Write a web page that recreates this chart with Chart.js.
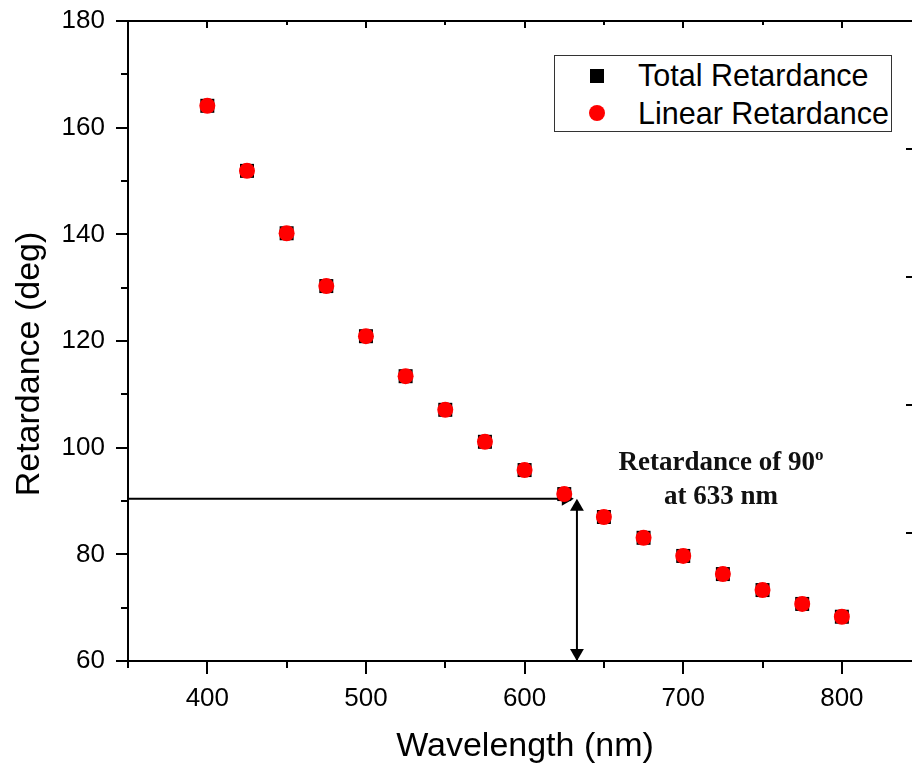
<!DOCTYPE html>
<html>
<head>
<meta charset="utf-8">
<script src="https://cdn.jsdelivr.net/npm/chart.js@4.4.1/dist/chart.umd.min.js"></script>
<style>
  body { margin: 0; overflow: hidden; background: #fff; width: 912px; height: 766px; position: relative; }
  #c { position: absolute; left: 0; top: 0; }
  .txt { position: absolute; font-family: "Liberation Sans", Arial, sans-serif; color: #000; white-space: nowrap; }
  #xtitle { left: 325px; top: 724px; width: 400px; text-align: center; font-size: 34px; line-height: 40px; }
  #ytitle { left: -173px; top: 344px; width: 400px; height: 40px; text-align: center; font-size: 34px; line-height: 40px; transform: rotate(-90deg); }
  #legend { position: absolute; left: 554px; top: 55px; width: 336px; height: 75px; border: 1.5px solid #333; background: #fff; }
  #note { position: absolute; left: 571px; top: 444px; width: 300px; text-align: center; font-family: "Liberation Serif", "Times New Roman", serif; font-weight: bold; font-size: 27px; line-height: 34px; color: #111; }
  #note sup { font-size: 17px; vertical-align: 10px; line-height: 0; }
</style>
</head>
<body>
<canvas id="c" width="940" height="766"></canvas>
<div class="txt" id="xtitle">Wavelength (nm)</div>
<div class="txt" id="ytitle">Retardance (deg)</div>
<div id="legend">
  <div style="position:absolute;left:35px;top:13px;width:14px;height:14px;background:#000"></div>
  <div class="txt" style="left:83px;top:0px;font-size:30.5px;line-height:38px">Total Retardance</div>
  <div style="position:absolute;left:34px;top:49px;width:16px;height:16px;border-radius:50%;background:#f00"></div>
  <div class="txt" style="left:83px;top:38px;font-size:30.5px;line-height:38px">Linear Retardance</div>
</div>
<div id="note">Retardance of 90<sup>o</sup><br>at 633 nm</div>
<script>
// Daten
const wavelength = [400, 425, 450, 475, 500, 525, 550, 575, 600, 625, 650, 675, 700, 725, 750, 775, 800];
const totalRetardance = [164.1, 151.9, 140.2, 130.3, 120.9, 113.4, 107.1, 101.1, 95.8, 91.3, 87.0, 83.1, 79.7, 76.3, 73.3, 70.7, 68.3];
const linearRetardance = [164.1, 151.9, 140.2, 130.3, 120.9, 113.4, 107.1, 101.1, 95.8, 91.3, 87.0, 83.1, 79.7, 76.3, 73.3, 70.7, 68.3];

// Pfeil bei 633 nm / 90 deg
const hArrowX = [350, 628];
const hArrowY = [90.4, 90.4];
const vArrowX = [633, 633];
const vArrowY = [60, 89.5];
const arrowHeads = [
  { x: 626, y: 90.4, rot: 90 },
  { x: 633, y: 88.9, rot: 0 },
  { x: 633, y: 61.5, rot: 180 }
];

// Achsen
const xMin = 350, xMax = 848, xStep = 50;
const xLabels = [400, 500, 600, 700, 800];
const yMin = 60, yMax = 180, yStep = 10;
const rightTicks = [1, 2, 3, 4];

const toXY = (xs, ys) => xs.map((x, i) => ({ x: x, y: ys[i] }));

// Rahmen, Ticks und x-Beschriftung wie im Origin-Plot
const framePlugin = {
  id: 'frame',
  afterDraw(chart) {
    const c = chart.ctx;
    const a = chart.chartArea;
    const xs = chart.scales.x, ys = chart.scales.y, y2 = chart.scales.y2;
    c.save();
    c.strokeStyle = '#000';
    c.lineWidth = 2;
    c.beginPath();
    c.rect(a.left, a.top, a.right - a.left, a.bottom - a.top);
    c.stroke();
    c.beginPath();
    for (let v = yMin; v <= yMax; v += yStep) {
      const p = Math.round(ys.getPixelForValue(v));
      const len = (v % 20 === 0) ? 12 : 7;
      c.moveTo(a.left - len, p); c.lineTo(a.left, p);
    }
    for (let v = xMin; v <= 800; v += xStep) {
      const p = Math.round(xs.getPixelForValue(v));
      const major = v % 100 === 0;
      c.moveTo(p, a.bottom); c.lineTo(p, a.bottom + (major ? 13 : 7));
      c.moveTo(p, a.top); c.lineTo(p, a.top + (major ? 7 : 4));
    }
    rightTicks.forEach(v => {
      const p = Math.round(y2.getPixelForValue(v));
      c.moveTo(a.right, p); c.lineTo(a.right - 12, p);
    });
    c.stroke();
    c.fillStyle = '#000';
    c.font = '26px "Liberation Sans", Arial, sans-serif';
    c.textAlign = 'center';
    c.textBaseline = 'alphabetic';
    xLabels.forEach(v => {
      c.fillText(String(v), xs.getPixelForValue(v), a.bottom + 45);
    });
    c.restore();
  }
};

new Chart(document.getElementById('c'), {
  type: 'scatter',
  data: {
    datasets: [
      {
        label: 'Linear Retardance',
        data: toXY(wavelength, linearRetardance),
        pointStyle: 'circle',
        pointRadius: 8,
        backgroundColor: '#ff0000',
        borderColor: '#ff0000',
        borderWidth: 0,
        order: 0
      },
      {
        label: 'Total Retardance',
        data: toXY(wavelength, totalRetardance),
        pointStyle: 'rect',
        pointRadius: 9.9,
        backgroundColor: '#000',
        borderColor: '#000',
        borderWidth: 0,
        order: 1
      },
      {
        label: 'h',
        type: 'line',
        data: toXY(hArrowX, hArrowY),
        borderColor: '#000',
        borderWidth: 2,
        pointRadius: 0,
        order: 2
      },
      {
        label: 'v',
        type: 'line',
        data: toXY(vArrowX, vArrowY),
        borderColor: '#000',
        borderWidth: 2,
        pointRadius: 0,
        order: 2
      },
      {
        label: 'heads',
        data: arrowHeads.map(h => ({ x: h.x, y: h.y })),
        pointStyle: 'triangle',
        pointRadius: 8,
        rotation: arrowHeads.map(h => h.rot),
        backgroundColor: '#000',
        borderColor: '#000',
        borderWidth: 0,
        clip: false,
        order: 0
      }
    ]
  },
  options: {
    responsive: false,
    animation: false,
    layout: { padding: { left: 0, top: 21, right: 22, bottom: 0 } },
    plugins: {
      legend: { display: false },
      tooltip: { enabled: false }
    },
    scales: {
      x: {
        type: 'linear',
        min: xMin,
        max: xMax,
        grid: { display: false, drawTicks: false, tickLength: 0 },
        border: { display: false },
        afterFit: s => { s.height = 105; },
        ticks: { display: false, stepSize: xStep }
      },
      y: {
        min: yMin,
        max: yMax,
        grid: { display: false, drawTicks: true, tickLength: 23 },
        border: { display: false },
        afterFit: s => { s.width = 128; },
        ticks: {
          stepSize: yStep,
          autoSkip: false,
          padding: 0,
          color: '#000',
          font: { family: 'Liberation Sans', size: 26 },
          callback: v => (v % 20 === 0 ? v : null)
        }
      },
      y2: {
        display: false,
        min: 0,
        max: 5
      }
    }
  },
  plugins: [framePlugin]
});
</script>
</body>
</html>
